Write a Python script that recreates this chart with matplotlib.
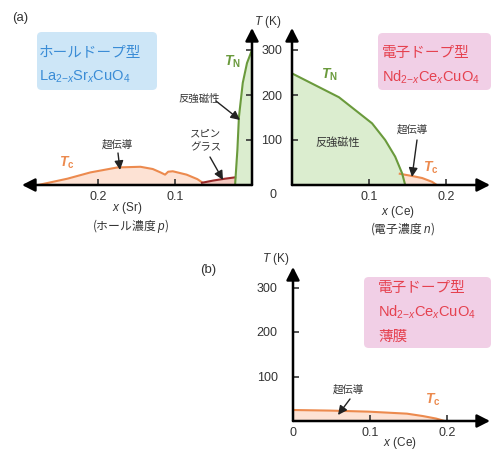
import matplotlib
matplotlib.use("Agg")
import matplotlib.pyplot as plt
from matplotlib.patches import FancyBboxPatch

plt.rcParams['font.family'] = ['Liberation Sans', 'Noto Sans CJK JP']
plt.rcParams['mathtext.fontset'] = 'custom'
plt.rcParams['mathtext.rm'] = 'Liberation Sans'
plt.rcParams['mathtext.it'] = 'Liberation Sans:italic'
plt.rcParams['mathtext.bf'] = 'Liberation Sans:bold'
plt.rcParams['mathtext.bfit'] = 'Liberation Sans:italic:bold'

# ---------------- data ----------------
# (a) hole doped La2-xSrxCuO4
lsco_tn_x = [0.0, 0.0065, 0.012, 0.017, 0.019, 0.022]
lsco_tn_T = [300, 271, 227, 151, 78, 0]
lsco_sg_x = [0.065, 0.05, 0.035, 0.022]
lsco_sg_T = [5, 10, 14, 17]
lsco_tc_x = [0.278, 0.240, 0.210, 0.175, 0.145, 0.129, 0.119, 0.113, 0.109, 0.103, 0.085, 0.071, 0.065]
lsco_tc_T = [0, 14, 28, 39, 40.5, 35.5, 28, 23, 29.5, 30.5, 23, 13, 6]
# (a) electron doped Nd2-xCexCuO4
ncco_tn_x = [0.0, 0.061, 0.104, 0.121, 0.134, 0.143, 0.147]
ncco_tn_T = [248, 195, 137, 100, 63, 26, 0]
ncco_tc_x = [0.140, 0.143, 0.156, 0.169, 0.182, 0.188]
ncco_tc_T = [25, 24, 20, 15.5, 7, 0]
# (b) Nd2-xCexCuO4 thin film
film_tc_x = [0.0, 0.048, 0.098, 0.148, 0.169, 0.186, 0.197]
film_tc_T = [24.7, 23.4, 21, 16.5, 11, 5.4, 0]

x_ticks_a = [0.1, 0.2]
x_ticklabels_a = ['0.1', '0.2']
x_ticks_b = [0.0, 0.1, 0.2]
x_ticklabels_b = ['0', '0.1', '0.2']
T_ticks = [100, 200, 300]
T_ticklabels = ['100', '200', '300']

# ---------------- styles ----------------
W, H = 491, 451
GREEN = '#6a9a3c'
GREEN_FILL = '#dbedcf'
ORANGE = '#ec8a4e'
ORANGE_FILL = '#fde2d4'
SG = '#9c2b2b'
BLUE = '#3a8cd6'
BLUE_BOX = '#cde6f7'
RED = '#e5414f'
PINK_BOX = '#f1cfe6'
TXT = '#333333'
JP = 'Noto Sans CJK JP'
TICK_FS = 9

fig = plt.figure(figsize=(W / 100, H / 100), dpi=100)
fig.patch.set_facecolor('white')


def add_ax(x0, y0, x1, y1):
    ax = fig.add_axes([x0 / W, 1 - y1 / H, (x1 - x0) / W, (y1 - y0) / H])
    ax.patch.set_alpha(0)
    for s in ax.spines.values():
        s.set_visible(False)
    return ax


def ftext(x, y, s, **kw):
    kw.setdefault('ha', 'center')
    kw.setdefault('va', 'center')
    return fig.text(x / W, 1 - y / H, s, **kw)


def farrow(x0, y0, x1, y1, lw=1.0):
    fig.add_artist(matplotlib.patches.FancyArrowPatch(
        (x0 / W, 1 - y0 / H), (x1 / W, 1 - y1 / H), transform=fig.transFigure,
        arrowstyle='-|>,head_length=0.45,head_width=0.22', mutation_scale=12,
        lw=lw, color='#222222', shrinkA=0, shrinkB=0))


def axis_arrow(ax, start, end):
    ax.annotate('', xy=end, xytext=start, xycoords='axes fraction',
                textcoords='axes fraction',
                arrowprops=dict(arrowstyle='-|>,head_length=0.55,head_width=0.28',
                                mutation_scale=14, lw=1.8, color='black',
                                shrinkA=0, shrinkB=0), annotation_clip=False)


def box(x0, y0, x1, y1, color):
    fig.add_artist(FancyBboxPatch((x0 / W, 1 - y1 / H), (x1 - x0) / W, (y1 - y0) / H,
                                  boxstyle='round,pad=0,rounding_size=0.01',
                                  transform=fig.transFigure, fc=color, ec='none', zorder=0))


# ---------------- (a) left: hole doped ----------------
axL = add_ax(22, 28, 252, 185)
axL.set_xlim(0.299, 0)
axL.set_ylim(0, 157 / 0.45)
axL.fill_between(lsco_tc_x, 0, lsco_tc_T, color=ORANGE_FILL, lw=0)
axL.fill_between(lsco_sg_x, 0, lsco_sg_T, color='#f5c9c0', lw=0)
axL.fill_between(lsco_tn_x, 0, lsco_tn_T, color=GREEN_FILL, lw=0)
axL.plot(lsco_tc_x, lsco_tc_T, color=ORANGE, lw=1.5)
axL.plot(lsco_sg_x, lsco_sg_T, color=SG, lw=1.5)
axL.plot(lsco_tn_x, lsco_tn_T, color=GREEN, lw=1.5)
axL.set_xticks(x_ticks_a, x_ticklabels_a)
axL.yaxis.tick_right()
axL.set_yticks(T_ticks, [])
axL.tick_params(direction='in', length=4, width=1.2, color=TXT, labelcolor=TXT,
                labelsize=TICK_FS, pad=4)
axis_arrow(axL, (1, 0), (0, 0))
axis_arrow(axL, (1, 0), (1, 1))

# ---------------- (a) right: electron doped ----------------
axR = add_ax(292, 28, 490, 185)
axR.set_xlim(0, 198 / 770)
axR.set_ylim(0, 157 / 0.45)
axR.fill_between(ncco_tc_x, 0, ncco_tc_T, color=ORANGE_FILL, lw=0)
axR.fill_between(ncco_tn_x, 0, ncco_tn_T, color=GREEN_FILL, lw=0)
axR.plot(ncco_tc_x, ncco_tc_T, color=ORANGE, lw=1.5)
axR.plot(ncco_tn_x, ncco_tn_T, color=GREEN, lw=1.5)
axR.set_xticks(x_ticks_a, x_ticklabels_a)
axR.set_yticks(T_ticks, T_ticklabels)
axR.tick_params(direction='in', length=4, width=1.2, color=TXT, labelcolor=TXT,
                labelsize=TICK_FS)
axR.tick_params(axis='x', pad=4)
axR.tick_params(axis='y', pad=7)
axis_arrow(axR, (0, 0), (1, 0))
axis_arrow(axR, (0, 0), (0, 1))

# ---------------- (b) thin film ----------------
axB = add_ax(293, 267, 490, 421)
axB.set_xlim(0, 197 / 770)
axB.set_ylim(0, 154 / 0.445)
axB.fill_between(film_tc_x, 0, film_tc_T, color=ORANGE_FILL, lw=0)
axB.plot(film_tc_x, film_tc_T, color=ORANGE, lw=1.5)
axB.set_xticks(x_ticks_b, x_ticklabels_b)
axB.set_yticks(T_ticks, T_ticklabels)
axB.tick_params(direction='in', length=4, width=1.2, color=TXT, labelcolor=TXT,
                labelsize=TICK_FS)
axB.tick_params(axis='x', pad=4)
axB.tick_params(axis='y', pad=11)
axis_arrow(axB, (0, 0), (1, 0))
axis_arrow(axB, (0, 0), (0, 1))

# ---------------- boxes & titles ----------------
box(37, 32, 157, 90, BLUE_BOX)
ftext(39, 53, 'ホールドープ型', color=BLUE, fontsize=10.5, ha='left', family=JP)
ftext(39, 77, r'La$_{2\mathrm{-}x}$Sr$_{x}$CuO$_{4}$', color=BLUE, fontsize=10.5, ha='left')

box(378, 33, 491, 90, PINK_BOX)
ftext(382, 53, '電子ドープ型', color=RED, fontsize=10.5, ha='left', family=JP)
ftext(382, 77, r'Nd$_{2\mathrm{-}x}$Ce$_{x}$CuO$_{4}$', color=RED, fontsize=10.5, ha='left')

box(364, 277, 491, 348, PINK_BOX)
ftext(378, 288, '電子ドープ型', color=RED, fontsize=10.5, ha='left', family=JP)
ftext(378, 312, r'Nd$_{2\mathrm{-}x}$Ce$_{x}$CuO$_{4}$', color=RED, fontsize=10.5, ha='left')
ftext(378, 337, '薄膜', color=RED, fontsize=10.5, ha='left', family=JP)

ftext(12, 18, '(a)', color=TXT, fontsize=9.5, ha='left')
ftext(200, 270, '(b)', color=TXT, fontsize=9.5, ha='left')

# axis titles
ftext(268, 22, r'$T$ (K)', color=TXT, fontsize=8.5)
ftext(276, 259, r'$T$ (K)', color=TXT, fontsize=8.5)
ftext(273, 195, '0', color=TXT, fontsize=TICK_FS)
ftext(127, 208, r'$x$ (Sr)', color=TXT, fontsize=8.5)
ftext(131, 226, r'(ホール濃度 $p$)', color=TXT, fontsize=8.5, family=JP)
ftext(398, 212, r'$x$ (Ce)', color=TXT, fontsize=8.5)
ftext(403, 229, r'(電子濃度 $n$)', color=TXT, fontsize=8.5, family=JP)
ftext(400, 443, r'$x$ (Ce)', color=TXT, fontsize=8.5)

# curve labels
ftext(232, 62, r'$\mathbfit{T}_\mathbf{N}$', color=GREEN, fontsize=10)
ftext(67, 163, r'$\mathbfit{T}_\mathbf{c}$', color=ORANGE, fontsize=10)
ftext(329, 75, r'$\mathbfit{T}_\mathbf{N}$', color=GREEN, fontsize=10)
ftext(431, 168, r'$\mathbfit{T}_\mathbf{c}$', color=ORANGE, fontsize=10)
ftext(433, 400, r'$\mathbfit{T}_\mathbf{c}$', color=ORANGE, fontsize=10)

# region labels with arrows
ftext(199, 99, '反強磁性', color=TXT, fontsize=7.5, family=JP)
farrow(216, 101, 240, 120)
ftext(206, 133, 'スピン', color=TXT, fontsize=7.5, family=JP)
ftext(206, 147, 'グラス', color=TXT, fontsize=7.5, family=JP)
farrow(210, 157, 223, 180)
ftext(117, 145, '超伝導', color=TXT, fontsize=7.5, family=JP)
farrow(118, 153, 120, 170)

ftext(338, 142, '反強磁性', color=TXT, fontsize=8, family=JP)
ftext(412, 130, '超伝導', color=TXT, fontsize=7.5, family=JP)
farrow(417, 140, 412, 177)
ftext(348, 390, '超伝導', color=TXT, fontsize=7.5, family=JP)
farrow(350, 399, 338, 415)

fig.savefig('out.png', dpi=100)
